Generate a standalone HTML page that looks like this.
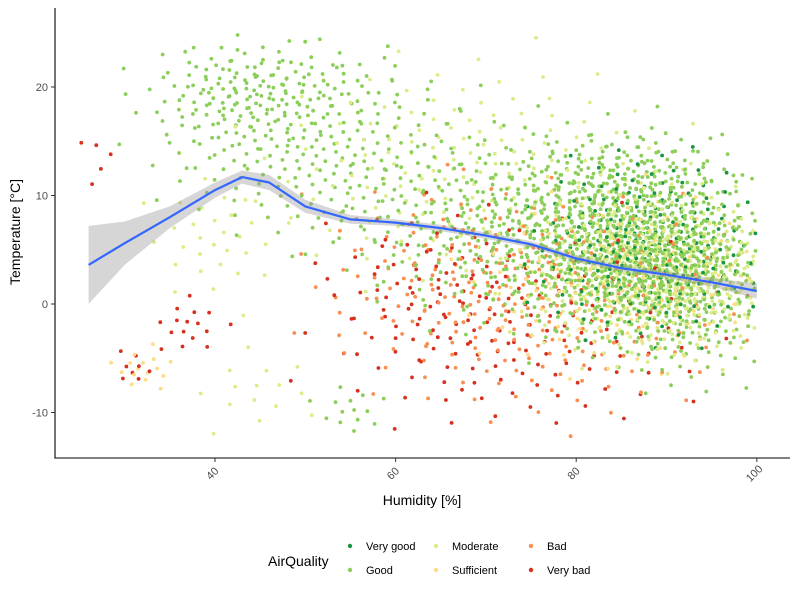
<!DOCTYPE html>
<html><head><meta charset="utf-8">
<style>
body{margin:0;background:#fff;font-family:"Liberation Sans",Arial,sans-serif;}
svg text{font-family:"Liberation Sans",Arial,sans-serif;}
</style></head>
<body>
<svg id="chart" width="800" height="597" viewBox="0 0 800 597" xmlns="http://www.w3.org/2000/svg">
<rect width="800" height="597" fill="#fff"/>
<g id="points"></g>
<g id="smooth"></g>
<g id="axes"></g>
<text x="422" y="505" font-size="14" text-anchor="middle" fill="#000">Humidity [%]</text>
<text transform="translate(20,232) rotate(-90)" font-size="14" text-anchor="middle" fill="#000">Temperature [°C]</text>
<g id="legend">
<text x="268" y="566" font-size="14" fill="#000">AirQuality</text>
</g>
</svg>
<script>
const qualityNames = ["Very good","Good","Moderate","Sufficient","Bad","Very bad"];
const qualityColors = ["#1a9641","#8cce5a","#dcec88","#fddc85","#f98e52","#d7301f"];
// cluster data: center humidity, center temperature, spread, category, count
const clusterH  = [86, 88, 88, 85, 76, 74, 52, 42, 68, 66, 64, 37, 32, 31, 27, 55, 45, 86, 40, 92, 74, 48, 80, 92];
const clusterT  = [ 5,  3,  5,  2,  0, -2, 14, 19, 12,  4,  2, -2, -6, -6, 13,-10, -8, 12,  6,  1,  7, 20,  7,  3];
const clusterSH = [ 7,  7,  6,  8, 11, 11,  9,  5, 11,  8,  6,  2,  2,  1,  1,  2,  4,  6,  4,  5, 10,  7, 10,  5];
const clusterST = [ 4,  4,  4,  4,  5,  5,  4,  3,  5,  4,  4,1.5,  1,  1,  2,1.5,  2,  2,  3,  4,  4,  2,  5,  3];
const clusterQ  = [ 1,  2,  0,  3,  4,  5,  1,  1,  2,  4,  5,  5,  3,  5,  5,  1,  2,  1,  2,  1,  1,  1,  1,  2];
const clusterN  = [520,380,260,180,230,150,200,90,170, 60, 50, 16, 16,  8,  5, 15, 15, 90, 30,240,260, 80,260,180];
// loess smooth
const smoothX  = [26, 30, 35, 40, 43, 46, 50, 55, 60, 65, 70, 75, 80, 85, 90, 95, 100];
const smoothY  = [3.6,5.6,8.0,10.5,11.7,11.2,9.0,7.8,7.5,7.0,6.3,5.5,4.2,3.3,2.7,2.0,1.2];
const smoothSE = [3.6,2.0,1.0,0.7,0.6,0.7,0.6,0.4,0.3,0.3,0.3,0.3,0.3,0.3,0.3,0.4,0.7];
const xTicks = [40,60,80,100];
const yTicks = [-10,0,10,20];

const NS="http://www.w3.org/2000/svg";
const X = h => 215 + (h-40)*9.03;
const Y = t => 304 - t*10.85;
const PX0=55, PX1=790, PY0=8, PY1=458;
function el(tag, attrs, parent){const e=document.createElementNS(NS,tag);for(const k in attrs)e.setAttribute(k,attrs[k]);parent.appendChild(e);return e;}

const gp=document.getElementById('points');
const golden=Math.PI*(3-Math.sqrt(5));
const maxN=Math.max(...clusterN);
for(let i=0;i<maxN;i++){
  for(let c=0;c<clusterH.length;c++){
    const n=clusterN[c];
    if(i>=n) continue;
    const u=(i+0.5)/n;
    const r=Math.min(2.6,Math.sqrt(-2*Math.log(1-u*0.97)));
    const a=i*golden+c*1.3;
    const h=clusterH[c]+clusterSH[c]*r*Math.cos(a);
    const t=clusterT[c]+clusterST[c]*r*Math.sin(a);
    if(h<25||h>100||t<-12.5||t>25.5) continue;
    const p=el('circle',{cx:X(h).toFixed(1),cy:Y(t).toFixed(1),r:1.9,fill:qualityColors[clusterQ[c]]},gp);
    
    
  }
}

const gs=document.getElementById('smooth');
let band='';
smoothX.forEach((x,i)=>band+=(i?'L':'M')+X(x).toFixed(1)+','+Y(smoothY[i]+smoothSE[i]).toFixed(1));
for(let i=smoothX.length-1;i>=0;i--) band+='L'+X(smoothX[i]).toFixed(1)+','+Y(smoothY[i]-smoothSE[i]).toFixed(1);
const b=el('path',{d:band+'Z',fill:'#999',opacity:0.4},gs);


let line='';
smoothX.forEach((x,i)=>line+=(i?'L':'M')+X(x).toFixed(1)+','+Y(smoothY[i]).toFixed(1));
const ln=el('path',{d:line,fill:'none',stroke:'#3366ff','stroke-width':2.2,'stroke-linejoin':'round'},gs);



const ga=document.getElementById('axes');
const ax=el('path',{d:`M${PX0},${PY0}V${PY1}H${PX1}`,fill:'none',stroke:'#000','stroke-width':1.1},ga);


xTicks.forEach(v=>{
  const x=X(v);
  el('line',{x1:x,x2:x,y1:PY1,y2:PY1+4,stroke:'#333'},ga);
  const t=el('text',{x:0,y:0,'font-size':11,fill:'#4d4d4d','text-anchor':'middle',transform:`translate(${x},${PY1+18}) rotate(-45)`},ga);
  t.textContent=v;
  
  
});
yTicks.forEach(v=>{
  const y=Y(v);
  el('line',{x1:PX0-4,x2:PX0,y1:y,y2:y,stroke:'#333'},ga);
  const t=el('text',{x:PX0-7,y:y+4,'font-size':11,fill:'#4d4d4d','text-anchor':'end'},ga);
  t.textContent=v;
  
  
});

const gl=document.getElementById('legend');
const legX=[350,436,531], legY=[547,571];
qualityNames.forEach((nm,i)=>{
  const col=Math.floor(i/2), row=i%2;
  const g=el('g',{},gl);
  
  
  el('circle',{cx:legX[col],cy:legY[row]-1,r:2.2,fill:qualityColors[i]},g);
  const t=el('text',{x:legX[col]+16,y:legY[row]+3,'font-size':11,fill:'#000'},g);
  t.textContent=nm;
});
</script>
</body></html>
